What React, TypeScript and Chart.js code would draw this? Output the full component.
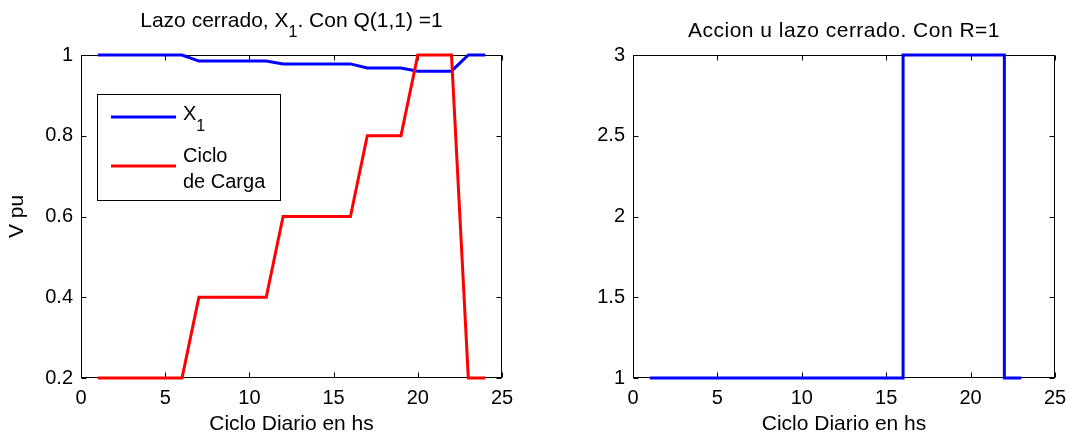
import React, { useEffect, useRef } from 'react';
import { Chart, registerables } from 'chart.js';

Chart.register(...registerables);

// ---- data ----
const hours = [1, 2, 3, 4, 5, 6, 7, 8, 9, 10, 11, 12, 13, 14, 15, 16, 17, 18, 19, 20, 21, 22, 23, 24];
const x1Values = [1, 1, 1, 1, 1, 1, 0.985, 0.985, 0.985, 0.985, 0.985, 0.978, 0.978, 0.978, 0.978, 0.978, 0.968, 0.968, 0.968, 0.96, 0.96, 0.96, 1, 1];
const loadCycle = [0.2, 0.2, 0.2, 0.2, 0.2, 0.2, 0.4, 0.4, 0.4, 0.4, 0.4, 0.6, 0.6, 0.6, 0.6, 0.6, 0.8, 0.8, 0.8, 1, 1, 1, 0.2, 0.2];
const hoursU = [1, 2, 3, 4, 5, 6, 7, 8, 9, 10, 11, 12, 13, 14, 15, 16, 17, 18, 19, 20, 21, 22, 23];
const uValues = [1, 1, 1, 1, 1, 1, 1, 1, 1, 1, 1, 1, 1, 1, 1, 3, 3, 3, 3, 3, 3, 1, 1];
const xTicks = [0, 5, 10, 15, 20, 25];
const yTicksLeft = [0.2, 0.4, 0.6, 0.8, 1];
const yTicksRight = [1, 1.5, 2, 2.5, 3];

const FONT = '"Liberation Sans", Arial, Helvetica, sans-serif';
const tickFont = { family: FONT, size: 20 };
const axisFont = { family: FONT, size: 21 };
const fmt = (v: number) => String(Math.round(v * 100) / 100);

const framePlugin = {
  id: 'frame',
  beforeDatasetsDraw(chart: any) {
    const { ctx, chartArea, scales } = chart;
    const L = Math.round(chartArea.left) + 0.5;
    const R = Math.round(chartArea.right) - 0.5;
    const T = Math.round(chartArea.top) + 0.5;
    const B = Math.round(chartArea.bottom) - 0.5;
    ctx.save();
    ctx.strokeStyle = '#000';
    ctx.lineWidth = 1;
    ctx.strokeRect(L, T, R - L, B - T);
    ctx.beginPath();
    const tl = 5;
    scales.x.ticks.forEach((t: any) => {
      const px = Math.round(scales.x.getPixelForValue(t.value)) + 0.5;
      ctx.moveTo(px, B); ctx.lineTo(px, B - tl);
      ctx.moveTo(px, T); ctx.lineTo(px, T + tl);
    });
    scales.y.ticks.forEach((t: any) => {
      const py = Math.round(scales.y.getPixelForValue(t.value)) + 0.5;
      ctx.moveTo(L, py); ctx.lineTo(L + tl, py);
      ctx.moveTo(R, py); ctx.lineTo(R - tl, py);
    });
    ctx.stroke();
    ctx.restore();
  },
};

function drawWithSub(ctx: any, parts: { text: string; sub?: boolean }[], cx: number, baseline: number, size: number, subSize: number, subDrop: number, spacing: number) {
  ctx.save();
  ctx.fillStyle = '#000';
  ctx.textBaseline = 'alphabetic';
  ctx.textAlign = 'left';
  (ctx as any).letterSpacing = spacing + 'px';
  let total = 0;
  const widths = parts.map((p) => {
    ctx.font = `${p.sub ? subSize : size}px ${FONT}`;
    const w = ctx.measureText(p.text).width;
    total += w;
    return w;
  });
  let x = cx - total / 2;
  parts.forEach((p, i) => {
    ctx.font = `${p.sub ? subSize : size}px ${FONT}`;
    ctx.fillText(p.text, x, p.sub ? baseline + subDrop : baseline);
    x += widths[i];
  });
  ctx.restore();
}

const leftTitlePlugin = {
  id: 'leftTitle',
  afterDraw(chart: any) {
    const { ctx, chartArea } = chart;
    const cx = (chartArea.left + chartArea.right) / 2;
    drawWithSub(ctx, [{ text: 'Lazo cerrado, X' }, { text: '1', sub: true }, { text: '. Con Q(1,1) =1' }], cx, 27, 21, 16, 10, 0);
  },
};

const rightTitlePlugin = {
  id: 'rightTitle',
  afterDraw(chart: any) {
    const { ctx, chartArea } = chart;
    const cx = (chartArea.left + chartArea.right) / 2;
    drawWithSub(ctx, [{ text: 'Accion u lazo cerrado. Con R=1' }], cx, 37, 21, 16, 0, 0.5);
  },
};

const legendPlugin = {
  id: 'boxLegend',
  afterDraw(chart: any) {
    const { ctx } = chart;
    ctx.save();
    ctx.fillStyle = '#fff';
    ctx.fillRect(97, 94, 183, 106);
    ctx.strokeStyle = '#000';
    ctx.lineWidth = 1;
    ctx.strokeRect(97.5, 94.5, 183, 106);
    const ds = chart.data.datasets;
    ctx.lineWidth = 3;
    ctx.strokeStyle = ds[0].borderColor;
    ctx.beginPath(); ctx.moveTo(111, 117); ctx.lineTo(176, 117); ctx.stroke();
    ctx.strokeStyle = ds[1].borderColor;
    ctx.beginPath(); ctx.moveTo(111, 166); ctx.lineTo(176, 166); ctx.stroke();
    ctx.fillStyle = '#000';
    ctx.textBaseline = 'alphabetic';
    ctx.font = `20px ${FONT}`;
    ctx.fillText('X', 183, 120);
    const wX = ctx.measureText('X').width;
    ctx.font = `16px ${FONT}`;
    ctx.fillText('1', 183 + wX, 131);
    ctx.font = `20px ${FONT}`;
    ctx.fillText('Ciclo', 183, 162);
    ctx.fillText('de Carga', 183, 188);
    ctx.restore();
  },
};

function baseScales(yTicks: number[], yMin: number, yMax: number, yWidth: number, yTitle: string | null) {
  return {
    x: {
      type: 'linear',
      min: 0,
      max: 25,
      afterBuildTicks: (s: any) => { s.ticks = xTicks.map((v) => ({ value: v })); },
      afterFit: (s: any) => { s.height = 59; s.paddingLeft = 0; s.paddingRight = 0; },
      grid: { display: false, drawTicks: false },
      border: { display: false },
      ticks: { font: tickFont, color: '#000', padding: 8, maxRotation: 0, autoSkip: false, callback: (v: any) => fmt(v) },
      title: { display: true, text: 'Ciclo Diario en hs', font: axisFont, color: '#000', padding: { top: 0, bottom: 0 } },
    },
    y: {
      type: 'linear',
      min: yMin,
      max: yMax,
      afterBuildTicks: (s: any) => { s.ticks = yTicks.map((v) => ({ value: v })); },
      afterFit: (s: any) => { s.width = yWidth; s.paddingTop = 0; s.paddingBottom = 0; },
      grid: { display: false, drawTicks: false },
      border: { display: false },
      ticks: { font: tickFont, color: '#000', padding: 8, autoSkip: false, callback: (v: any) => fmt(v) },
      title: { display: !!yTitle, text: yTitle || '', font: axisFont, color: '#000', padding: { top: 5, bottom: 0 } },
    },
  };
}

export default function App() {
  const leftRef = useRef<HTMLCanvasElement | null>(null);
  const rightRef = useRef<HTMLCanvasElement | null>(null);

  useEffect(() => {
    const left = new Chart(leftRef.current as HTMLCanvasElement, {
      type: 'line',
      data: {
        datasets: [
          { label: 'X1', data: hours.map((h, i) => ({ x: h, y: x1Values[i] })), borderColor: '#0000ff', borderWidth: 3, pointRadius: 0, order: 1, clip: false, tension: 0 },
          { label: 'Ciclo de Carga', data: hours.map((h, i) => ({ x: h, y: loadCycle[i] })), borderColor: '#ff0000', borderWidth: 3, pointRadius: 0, order: 0, clip: false, tension: 0 },
        ],
      },
      options: {
        responsive: false,
        animation: false,
        layout: { padding: { top: 55, right: 32, left: 0, bottom: 0 } },
        plugins: { legend: { display: false }, tooltip: { enabled: false }, title: { display: false } },
        scales: baseScales(yTicksLeft, 0.2, 1, 81, 'V pu') as any,
      },
      plugins: [framePlugin, legendPlugin, leftTitlePlugin],
    } as any);

    const right = new Chart(rightRef.current as HTMLCanvasElement, {
      type: 'line',
      data: {
        datasets: [
          { label: 'u', data: hoursU.map((h, i) => ({ x: h, y: uValues[i] })), borderColor: '#0000ff', borderWidth: 3, pointRadius: 0, stepped: true, clip: false },
        ],
      },
      options: {
        responsive: false,
        animation: false,
        layout: { padding: { top: 55, right: 14, left: 0, bottom: 0 } },
        plugins: { legend: { display: false }, tooltip: { enabled: false }, title: { display: false } },
        scales: baseScales(yTicksRight, 1, 3, 99, null) as any,
      },
      plugins: [framePlugin, rightTitlePlugin],
    } as any);

    return () => {
      left.destroy();
      right.destroy();
    };
  }, []);

  return (
    <div style={{ position: 'absolute', left: 0, top: 0, width: 1069, height: 437, background: '#fff' }}>
      <canvas ref={leftRef} width={534} height={437} style={{ position: 'absolute', left: 0, top: 0, width: 534, height: 437 }} />
      <canvas ref={rightRef} width={535} height={437} style={{ position: 'absolute', left: 534, top: 0, width: 535, height: 437 }} />
    </div>
  );
}
